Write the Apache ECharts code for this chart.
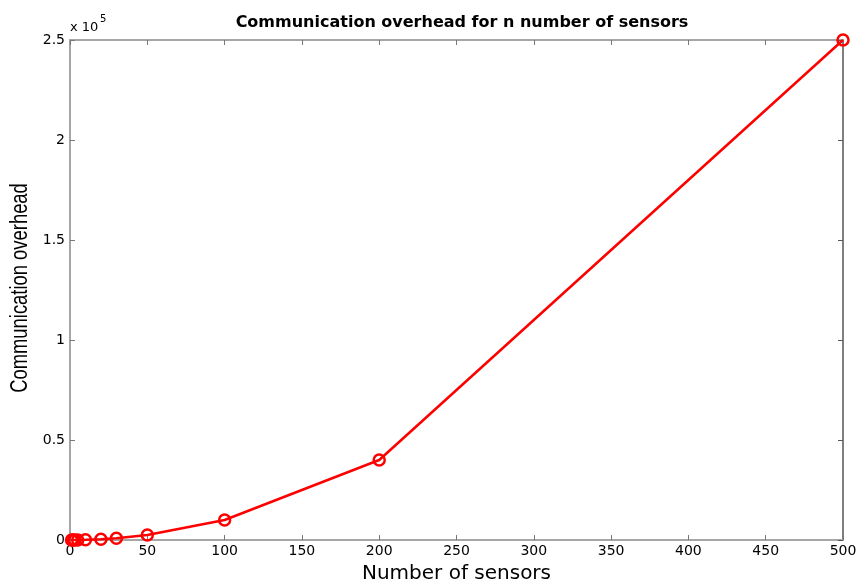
<!DOCTYPE html>
<html><head><meta charset="utf-8">
<script src="https://cdn.jsdelivr.net/npm/echarts@6/dist/echarts.min.js"></script>
<style>html,body{margin:0;padding:0;background:#fff}#c{width:860px;height:584px}</style>
</head><body><div id="c"></div>
<script>
const sensors = [1, 2, 3, 5, 10, 20, 30, 50, 100, 200, 500];
const overhead = [1, 4, 9, 25, 100, 400, 900, 2500, 10000, 40000, 250000];
const titleText = 'Communication overhead for n number of sensors';
const xName = 'Number of sensors';
const yName = 'Communication overhead';

const chart = echarts.init(document.getElementById('c'));
const axisGray = '#a6a6a6';
const font = 'DejaVu Sans, Liberation Sans, Arial, sans-serif';
const pts = sensors.map((s, i) => [s, overhead[i]]);
chart.setOption({
  animation: false,
  title: {text: titleText, left: 457, top: 10, textAlign: 'center',
    textStyle: {fontFamily: font, fontSize: 16, fontWeight: 'bold', color: '#000'}},
  grid: {left: 70, right: 17, top: 40, bottom: 44, outerBoundsMode: 'none', containLabel: false},
  xAxis: [{type: 'value', min: 0, max: 500, interval: 50,
    name: xName, nameLocation: 'middle', nameGap: 24,
    nameTextStyle: {fontFamily: font, fontSize: 20, color: '#000'},
    axisLine: {show: true, lineStyle: {color: axisGray, width: 2}},
    axisTick: {show: true, inside: true, length: 5, lineStyle: {color: '#777'}},
    axisLabel: {fontFamily: font, fontSize: 14, color: '#000', margin: 4},
    splitLine: {show: false}},
    {type: 'value', position: 'top', min: 0, max: 500, interval: 50,
    axisLine: {show: true, onZero: false, lineStyle: {color: axisGray, width: 2}},
    axisTick: {show: true, inside: true, length: 5, lineStyle: {color: '#777'}},
    axisLabel: {show: false}, splitLine: {show: false}}],
  yAxis: [{type: 'value', min: 0, max: 250000, interval: 50000,
    axisLine: {show: true, lineStyle: {color: axisGray, width: 2}},
    axisTick: {show: true, inside: true, length: 5, lineStyle: {color: '#777'}},
    axisLabel: {fontFamily: font, fontSize: 14, color: '#000', margin: 5,
      formatter: v => String(v / 100000)},
    splitLine: {show: false}},
    {type: 'value', position: 'right', min: 0, max: 250000, interval: 50000,
    axisLine: {show: true, onZero: false, lineStyle: {color: '#555', width: 1.5}},
    axisTick: {show: true, inside: true, length: 5, lineStyle: {color: '#555'}},
    axisLabel: {show: false}, splitLine: {show: false}}],
  series: [
    {type: 'line', xAxisIndex: 1, yAxisIndex: 1, data: pts, symbol: 'none',
     silent: true, lineStyle: {opacity: 0}, z: 0},
    {type: 'line', xAxisIndex: 0, yAxisIndex: 0, data: pts,
    symbol: 'circle', symbolSize: 11,
    lineStyle: {color: '#ff0000', width: 2.5},
    itemStyle: {color: 'rgba(255,255,255,0)', borderColor: '#ff0000', borderWidth: 2.5}}],
  graphic: [
    {type: 'text', x: 70, y: 21,
     style: {text: 'x 10', fontFamily: font, fontSize: 13, fill: '#000'}},
    {type: 'text', x: 100, y: 14,
     style: {text: '5', fontFamily: font, fontSize: 10, fill: '#000'}},
    {type: 'text', x: 21, y: 288, rotation: Math.PI / 2, scaleX: 0.8,
     style: {text: yName, fontFamily: 'Liberation Sans, Arial, sans-serif', fontSize: 23, fill: '#000',
       align: 'center', verticalAlign: 'middle'}}]
});
</script></body></html>
